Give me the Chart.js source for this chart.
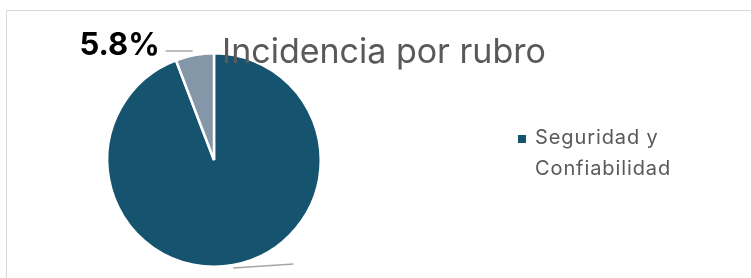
<!DOCTYPE html>
<html>
<head>
<meta charset="utf-8">
<script src="https://cdn.jsdelivr.net/npm/chart.js@4.4.1/dist/chart.umd.min.js"></script>
<style>
  html, body { margin: 0; padding: 0; background: #fff; }
  #wrap { position: relative; width: 751px; height: 278px; overflow: hidden; }
  #frame { position: absolute; left: 6px; top: 10px; width: 760px; height: 300px;
           border-top: 1px solid #d9d9d9; border-left: 1px solid #d9d9d9; }
  canvas { position: absolute; left: 0; top: 0; }
  #titulo { position: absolute; left: 222px; top: 30px; font-family: Inter, sans-serif;
            font-size: 34px; color: #595959; white-space: nowrap; }
  #leyenda { position: absolute; left: 518px; top: 122px; font-family: Inter, sans-serif;
             font-size: 20px; letter-spacing: 0.9px; line-height: 31px; color: #595959; }
  #leyenda .cuadro { position: absolute; left: 0; top: 13px; width: 8px; height: 8px; }
  #leyenda .texto { margin-left: 17px; }
</style>
</head>
<body>
<div id="wrap">
  <div id="frame"></div>
  <canvas id="chartRubro" width="751" height="278"></canvas>
  <div id="titulo">Incidencia por rubro</div>
  <div id="leyenda"><span class="cuadro"></span><div class="texto">Seguridad y<br>Confiabilidad</div></div>
</div>
<script>
// categorías y valores (%)
const rubros = ['Seguridad y Confiabilidad', 'Otros'];
const porcentajes = [94.2, 5.8];
const colores = ['#15536f', '#8497a8'];
const rubrosEnLeyenda = ['Seguridad y Confiabilidad'];

document.querySelector('#leyenda .cuadro').style.background = colores[0];

// etiqueta con línea guía (estilo Excel); la del sector grande queda fuera del recorte
const etiquetasPlugin = {
    id: 'etiquetas',
    afterDatasetsDraw(chart) {
        const ctx = chart.ctx;
        const arcos = chart.getDatasetMeta(0).data;
        ctx.save();
        ctx.strokeStyle = '#a6a6a6';
        ctx.lineWidth = 1.5;
        arcos.forEach((arc, i) => {
            const medio = (arc.startAngle + arc.endAngle) / 2;
            const x0 = arc.x + Math.cos(medio) * arc.outerRadius;
            const y0 = arc.y + Math.sin(medio) * arc.outerRadius;
            ctx.beginPath();
            if (i === 1) {
                ctx.moveTo(x0 - 2, y0 - 4);
                ctx.lineTo(x0 - 29, y0 - 4);
                ctx.stroke();
                ctx.fillStyle = '#000';
                ctx.font = 'bold 31px Inter, sans-serif';
                ctx.textAlign = 'right';
                ctx.textBaseline = 'alphabetic';
                ctx.fillText(porcentajes[i].toFixed(1) + '%', x0 - 35, y0);
            } else {
                ctx.moveTo(x0, y0 + 3);
                ctx.lineTo(x0 + 60, y0 - 1);
                ctx.stroke();
            }
        });
        ctx.restore();
    }
};

new Chart(document.getElementById('chartRubro'), {
    type: 'pie',
    data: {
        labels: rubros,
        datasets: [{ data: porcentajes, backgroundColor: colores, borderColor: '#fff', borderWidth: 2.5 }]
    },
    options: {
        responsive: false,
        animation: false,
        layout: { padding: { left: 106, right: 429, top: 52, bottom: 10 } },
        plugins: {
            legend: { display: false, labels: { filter: it => rubrosEnLeyenda.includes(it.text) } },
            tooltip: { enabled: false },
            title: { display: false }
        }
    },
    plugins: [etiquetasPlugin]
});
</script>
</body>
</html>
